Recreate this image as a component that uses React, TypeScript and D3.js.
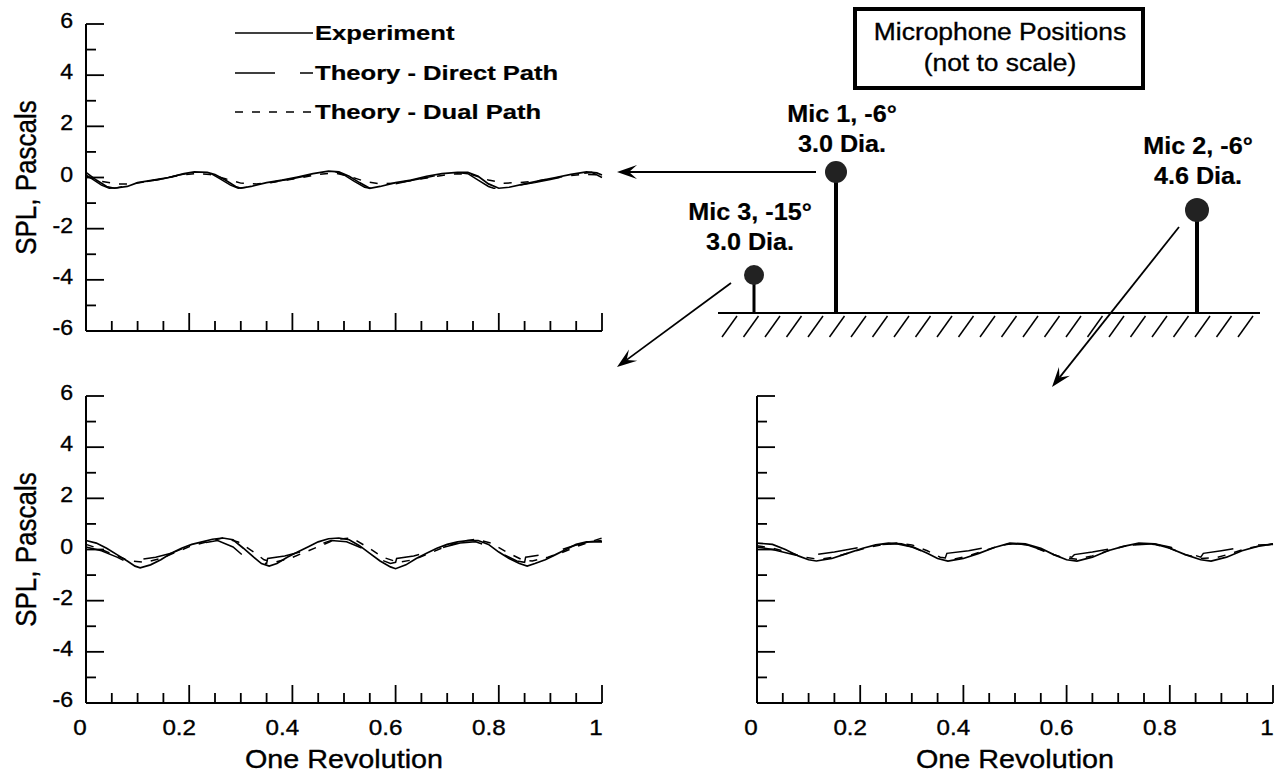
import React from 'react';
import * as d3 from 'd3';

type Pt = [number, number];

const yTickLabels = [6, 4, 2, 0, -2, -4, -6];
const xTickValues = [0, 0.2, 0.4, 0.6, 0.8, 1];
const xTickLabels = ['0', '0.2', '0.4', '0.6', '0.8', '1'];
const legendLabels = ['Experiment', 'Theory - Direct Path', 'Theory - Dual Path'];
const xAxisTitle = 'One Revolution';
const yAxisTitle = 'SPL, Pascals';
const boxLines = ['Microphone Positions', '(not to scale)'];
const micLabels = [
  ['Mic 1, -6°', '3.0 Dia.'],
  ['Mic 2, -6°', '4.6 Dia.'],
  ['Mic 3, -15°', '3.0 Dia.'],
];

// Mic 1 (top-left)
const mic1Experiment: Pt[] = [[0,0.2],[0.02,-0.1],[0.04,-0.35],[0.055,-0.42],[0.08,-0.35],[0.1,-0.2],[0.13,-0.1],[0.16,0.0],[0.19,0.15],[0.21,0.22],[0.235,0.2],[0.25,0.12],[0.27,-0.1],[0.29,-0.35],[0.3,-0.42],[0.32,-0.35],[0.35,-0.2],[0.38,-0.1],[0.41,0.02],[0.44,0.15],[0.47,0.25],[0.49,0.22],[0.51,0.05],[0.53,-0.2],[0.55,-0.42],[0.57,-0.35],[0.6,-0.2],[0.63,-0.1],[0.66,0.05],[0.69,0.15],[0.72,0.2],[0.74,0.2],[0.76,0.05],[0.78,-0.25],[0.8,-0.42],[0.82,-0.38],[0.85,-0.25],[0.88,-0.12],[0.91,0.0],[0.94,0.12],[0.97,0.22],[0.99,0.18],[1.0,0.1]];
const mic1Direct: Pt[] = [[0,0.1],[0.03,-0.3],[0.045,-0.42],[0.06,-0.4],[0.09,-0.3],[0.12,-0.15],[0.15,-0.05],[0.18,0.1],[0.21,0.2],[0.24,0.18],[0.26,-0.05],[0.28,-0.3],[0.295,-0.42],[0.31,-0.38],[0.34,-0.28],[0.37,-0.15],[0.4,-0.05],[0.43,0.08],[0.46,0.2],[0.48,0.25],[0.5,0.1],[0.52,-0.15],[0.54,-0.38],[0.55,-0.42],[0.57,-0.38],[0.6,-0.25],[0.63,-0.12],[0.66,0.0],[0.69,0.12],[0.72,0.2],[0.74,0.15],[0.76,-0.1],[0.78,-0.35],[0.79,-0.42],[0.81,-0.4],[0.84,-0.3],[0.87,-0.2],[0.9,-0.08],[0.93,0.05],[0.96,0.15],[0.98,0.2],[1.0,0.0]];
const mic1Dual: Pt[] = [[0,0.05],[0.03,-0.15],[0.06,-0.25],[0.09,-0.25],[0.12,-0.15],[0.15,-0.05],[0.18,0.08],[0.21,0.15],[0.24,0.12],[0.27,-0.05],[0.3,-0.22],[0.33,-0.25],[0.36,-0.2],[0.39,-0.1],[0.42,0.0],[0.45,0.12],[0.48,0.18],[0.51,0.05],[0.54,-0.15],[0.57,-0.25],[0.6,-0.22],[0.63,-0.12],[0.66,-0.02],[0.69,0.08],[0.72,0.15],[0.75,0.1],[0.78,-0.1],[0.81,-0.22],[0.84,-0.2],[0.87,-0.15],[0.9,-0.05],[0.93,0.05],[0.96,0.12],[1.0,0.1]];

// Mic 3 (bottom-left)
const mic3Experiment: Pt[] = [[0,0.35],[0.02,0.25],[0.04,0.05],[0.06,-0.2],[0.08,-0.45],[0.095,-0.65],[0.105,-0.72],[0.125,-0.6],[0.145,-0.4],[0.165,-0.15],[0.185,0.05],[0.205,0.2],[0.225,0.3],[0.245,0.4],[0.265,0.45],[0.285,0.38],[0.305,0.05],[0.325,-0.3],[0.34,-0.55],[0.355,-0.65],[0.37,-0.55],[0.39,-0.3],[0.41,-0.1],[0.43,0.1],[0.45,0.3],[0.47,0.42],[0.49,0.45],[0.51,0.38],[0.53,0.15],[0.55,-0.15],[0.57,-0.45],[0.59,-0.68],[0.6,-0.75],[0.62,-0.6],[0.64,-0.35],[0.66,-0.15],[0.68,0.05],[0.7,0.2],[0.72,0.3],[0.74,0.35],[0.76,0.35],[0.78,0.2],[0.8,-0.1],[0.82,-0.35],[0.84,-0.55],[0.855,-0.65],[0.87,-0.55],[0.89,-0.4],[0.91,-0.2],[0.93,0.0],[0.95,0.2],[0.97,0.3],[1.0,0.3]];
const mic3Direct: Pt[] = [[0,0.1],[0.03,-0.05],[0.06,-0.3],[0.085,-0.55],[0.1,-0.6],[0.102,-0.4],[0.135,-0.3],[0.165,-0.15],[0.195,0.1],[0.225,0.25],[0.255,0.35],[0.285,0.1],[0.305,-0.25],[0.335,-0.5],[0.35,-0.55],[0.352,-0.35],[0.385,-0.25],[0.415,-0.1],[0.445,0.15],[0.475,0.35],[0.505,0.3],[0.535,0.05],[0.565,-0.35],[0.59,-0.55],[0.6,-0.5],[0.602,-0.35],[0.635,-0.25],[0.665,-0.1],[0.695,0.1],[0.725,0.25],[0.755,0.3],[0.785,0.1],[0.805,-0.15],[0.835,-0.45],[0.85,-0.5],[0.852,-0.3],[0.885,-0.2],[0.915,-0.05],[0.945,0.15],[0.975,0.3],[1.0,0.35]];
const mic3Dual: Pt[] = [[0,0.2],[0.03,0.0],[0.06,-0.25],[0.085,-0.45],[0.115,-0.5],[0.145,-0.35],[0.175,-0.1],[0.205,0.15],[0.235,0.3],[0.265,0.45],[0.295,0.3],[0.325,-0.1],[0.345,-0.4],[0.365,-0.5],[0.395,-0.35],[0.425,-0.1],[0.455,0.15],[0.485,0.4],[0.515,0.45],[0.545,0.1],[0.575,-0.3],[0.605,-0.5],[0.635,-0.4],[0.665,-0.15],[0.695,0.1],[0.725,0.3],[0.755,0.4],[0.785,0.25],[0.815,-0.1],[0.845,-0.4],[0.865,-0.45],[0.895,-0.3],[0.925,-0.1],[0.955,0.15],[1.0,0.45]];

// Mic 2 (bottom-right)
const mic2Experiment: Pt[] = [[0,0.25],[0.03,0.2],[0.055,0.0],[0.08,-0.25],[0.1,-0.4],[0.115,-0.45],[0.145,-0.35],[0.175,-0.15],[0.205,0.05],[0.23,0.18],[0.255,0.25],[0.28,0.22],[0.305,0.08],[0.33,-0.15],[0.35,-0.35],[0.37,-0.45],[0.4,-0.35],[0.43,-0.15],[0.46,0.08],[0.49,0.25],[0.52,0.22],[0.55,0.05],[0.575,-0.2],[0.6,-0.4],[0.62,-0.45],[0.65,-0.3],[0.68,-0.05],[0.71,0.12],[0.74,0.25],[0.77,0.22],[0.8,0.05],[0.83,-0.2],[0.86,-0.4],[0.88,-0.45],[0.91,-0.3],[0.94,-0.05],[0.97,0.12],[1.0,0.22]];
const mic2Direct: Pt[] = [[0,0.1],[0.03,0.0],[0.06,-0.15],[0.09,-0.3],[0.11,-0.35],[0.113,-0.2],[0.15,-0.1],[0.19,0.05],[0.23,0.18],[0.27,0.22],[0.3,0.1],[0.33,-0.15],[0.355,-0.3],[0.365,-0.32],[0.368,-0.15],[0.41,-0.05],[0.45,0.1],[0.49,0.22],[0.52,0.2],[0.55,0.0],[0.58,-0.2],[0.61,-0.3],[0.615,-0.2],[0.65,-0.1],[0.69,0.05],[0.73,0.18],[0.77,0.22],[0.8,0.1],[0.83,-0.1],[0.86,-0.3],[0.865,-0.15],[0.9,-0.05],[0.94,0.08],[0.97,0.18],[1.0,0.2]];
const mic2Dual: Pt[] = [[0,0.15],[0.03,0.05],[0.06,-0.1],[0.09,-0.3],[0.12,-0.38],[0.15,-0.3],[0.18,-0.12],[0.21,0.05],[0.24,0.18],[0.27,0.25],[0.3,0.18],[0.33,-0.05],[0.355,-0.3],[0.38,-0.38],[0.41,-0.25],[0.44,-0.05],[0.47,0.15],[0.5,0.25],[0.53,0.15],[0.56,-0.1],[0.59,-0.3],[0.62,-0.38],[0.65,-0.25],[0.68,-0.05],[0.71,0.12],[0.74,0.22],[0.77,0.2],[0.8,0.05],[0.83,-0.2],[0.86,-0.35],[0.89,-0.32],[0.92,-0.15],[0.95,0.05],[1.0,0.22]];

const FONT = "'Liberation Sans', Arial, Helvetica, sans-serif";
const DASH_DIRECT = '40,25';
const DASH_DUAL = '8,9';

function T({ x, y, size, anchor = 'middle', bold = false, sx = 1, rotate = 0, children }: any) {
  const tr = `translate(${x},${y}) scale(${sx},1)` + (rotate ? ` rotate(${rotate})` : '');
  return (
    <text transform={tr} textAnchor={anchor} fontSize={size} fontWeight={bold ? 'bold' : 'normal'} fontFamily={FONT} fill="#000" stroke="#000" strokeWidth={bold ? 0.2 : 0.35}>
      {children}
    </text>
  );
}

interface PanelProps {
  x0: number; x1: number; y0: number; y1: number;
  exp: Pt[]; direct: Pt[]; dual: Pt[];
  yLabels: boolean; xLabels: boolean;
}

function Panel({ x0, x1, y0, y1, exp, direct, dual, yLabels, xLabels }: PanelProps) {
  const xs = d3.scaleLinear().domain([0, 1]).range([x0, x1]);
  const ys = d3.scaleLinear().domain([-6, 6]).range([y1, y0]);
  const line = d3.line<Pt>().x((d) => xs(d[0])).y((d) => ys(d[1]));
  const yT = d3.range(-6, 7, 1);
  const xT = d3.range(0, 21).map((i) => i / 20);
  return (
    <g>
      <path d={line(dual) || ''} fill="none" stroke="#000" strokeWidth={1.5} strokeDasharray={DASH_DUAL} />
      <path d={line(direct) || ''} fill="none" stroke="#000" strokeWidth={1.5} strokeDasharray={DASH_DIRECT} />
      <path d={line(exp) || ''} fill="none" stroke="#000" strokeWidth={1.7} />
      <line x1={x0} y1={y0} x2={x0} y2={y1} stroke="#000" strokeWidth={2} />
      <line x1={x0} y1={y1} x2={x1} y2={y1} stroke="#000" strokeWidth={2} />
      {yT.map((v) => {
        const major = v % 2 === 0;
        return <line key={'y' + v} x1={x0} x2={x0 + (major ? 18 : 10)} y1={ys(v)} y2={ys(v)} stroke="#000" strokeWidth={1.8} />;
      })}
      {xT.map((v, i) => {
        const major = i % 4 === 0;
        return <line key={'x' + i} x1={xs(v)} x2={xs(v)} y1={y1} y2={y1 - (major ? 18 : 10)} stroke="#000" strokeWidth={1.8} />;
      })}
      {yLabels && yTickLabels.map((v) => (
        <T key={'yl' + v} x={x0 - 13} y={ys(v) + 4} size={22} anchor="end" sx={1.05}>{v}</T>
      ))}
      {xLabels && xTickValues.map((v, i) => (
        <T key={'xl' + i} x={xs(v) - (xTickLabels[i].length > 1 ? 10 : 6)} y={y1 + 32} size={22} sx={1.1}>{xTickLabels[i]}</T>
      ))}
      {xLabels && (
        <T x={(x0 + x1) / 2} y={y1 + 65} size={25} sx={1.15}>{xAxisTitle}</T>
      )}
      {yLabels && (
        <T x={x0 - 50} y={(y0 + y1) / 2} size={26} sx={1.1} rotate={-90}>{yAxisTitle}</T>
      )}
    </g>
  );
}

function Arrow({ x1, y1, x2, y2 }: { x1: number; y1: number; x2: number; y2: number }) {
  const ang = Math.atan2(y2 - y1, x2 - x1);
  const L = 20, Wd = 7, notch = 12;
  const bx = x2 - L * Math.cos(ang), by = y2 - L * Math.sin(ang);
  const nx = x2 - notch * Math.cos(ang), ny = y2 - notch * Math.sin(ang);
  const px = -Math.sin(ang), py = Math.cos(ang);
  const pts = [
    [x2, y2],
    [bx + px * Wd, by + py * Wd],
    [nx, ny],
    [bx - px * Wd, by - py * Wd],
  ];
  return (
    <g>
      <line x1={x1} y1={y1} x2={nx} y2={ny} stroke="#000" strokeWidth={1.8} />
      <polygon points={pts.map((p) => p.join(',')).join(' ')} fill="#000" />
    </g>
  );
}

function Diagram() {
  const groundY = 313;
  const hatchX = d3.range(722, 1245, 21.5);
  const mics = [
    { x: 836, by: 172, r: 11, sw: 4, label: micLabels[0], lx: 842, ly: 122 },
    { x: 1197, by: 210, r: 12, sw: 4, label: micLabels[1], lx: 1198, ly: 154 },
    { x: 754, by: 275, r: 10, sw: 3, label: micLabels[2], lx: 750, ly: 220 },
  ];
  return (
    <g>
      <rect x={855} y={9} width={288} height={79} fill="none" stroke="#000" strokeWidth={4} />
      <T x={1000} y={40} size={24} sx={1.1}>{boxLines[0]}</T>
      <T x={1000} y={71} size={24} sx={1.1}>{boxLines[1]}</T>
      <line x1={718} y1={groundY} x2={1260} y2={groundY} stroke="#000" strokeWidth={2.2} />
      {hatchX.map((hx) => (
        <line key={hx} x1={hx} y1={groundY + 24} x2={hx + 15} y2={groundY + 3} stroke="#000" strokeWidth={1.5} />
      ))}
      {mics.map((m, i) => (
        <g key={i}>
          <line x1={m.x} y1={m.by} x2={m.x} y2={groundY} stroke="#000" strokeWidth={m.sw} />
          <circle cx={m.x} cy={m.by} r={m.r} fill="#222" />
          <T x={m.lx} y={m.ly} size={24} bold sx={1.05}>{m.label[0]}</T>
          <T x={m.lx} y={m.ly + 30} size={24} bold sx={1.05}>{m.label[1]}</T>
        </g>
      ))}
      <Arrow x1={816} y1={172} x2={617} y2={172} />
      <Arrow x1={731} y1={283} x2={617} y2={367} />
      <Arrow x1={1179} y1={227} x2={1052} y2={387} />
    </g>
  );
}

function Legend() {
  const rows = [
    { y: 33, dash: undefined as string | undefined },
    { y: 73, dash: DASH_DIRECT },
    { y: 112, dash: DASH_DUAL },
  ];
  return (
    <g>
      {rows.map((r, i) => (
        <g key={i}>
          <line x1={235} x2={313} y1={r.y} y2={r.y} stroke="#000" strokeWidth={1.6} strokeDasharray={r.dash} />
          <T x={315} y={r.y + 7} size={21} bold anchor="start" sx={1.22}>{legendLabels[i]}</T>
        </g>
      ))}
    </g>
  );
}

export default function App() {
  return (
    <svg width={1285} height={776} style={{ position: 'absolute', left: 0, top: 0, background: '#fff' }}>
      <rect x={0} y={0} width={1285} height={776} fill="#fff" />
      <Panel x0={86} x1={602} y0={24} y1={331} exp={mic1Experiment} direct={mic1Direct} dual={mic1Dual} yLabels xLabels={false} />
      <Panel x0={86} x1={602} y0={396} y1={703} exp={mic3Experiment} direct={mic3Direct} dual={mic3Dual} yLabels xLabels />
      <Panel x0={757} x1={1273} y0={396} y1={703} exp={mic2Experiment} direct={mic2Direct} dual={mic2Dual} yLabels={false} xLabels />
      <Legend />
      <Diagram />
    </svg>
  );
}
